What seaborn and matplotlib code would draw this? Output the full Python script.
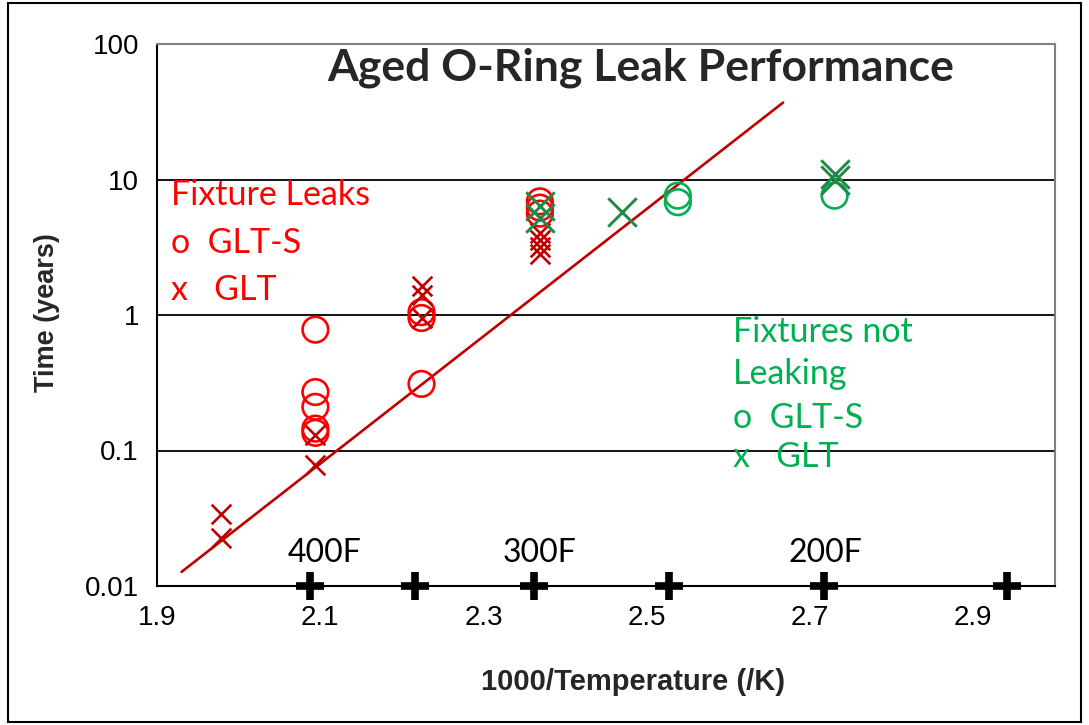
import matplotlib
matplotlib.use("Agg")
import matplotlib.pyplot as plt
import seaborn as sns
from matplotlib.patches import Rectangle

# Fixture leaks (red)
leak_s_x = [2.094, 2.094, 2.094, 2.094, 2.094, 2.224, 2.224, 2.224, 2.369, 2.369, 2.369]
leak_s_y = [0.78, 0.27, 0.21, 0.145, 0.135, 0.31, 1.05, 0.95, 6.9, 6.2, 5.6]
leak_x = [1.978, 1.978, 2.094, 2.094, 2.224, 2.224, 2.224, 2.369, 2.369, 2.369, 2.369]
leak_y = [0.034, 0.0225, 0.13, 0.078, 1.65, 1.4, 0.95, 4.0, 3.6, 3.2, 2.8]

# Fixtures not leaking (green)
ok_s_x = [2.538, 2.538, 2.730]
ok_s_y = [7.6, 6.8, 7.6]
ok_x = [2.369, 2.369, 2.469, 2.730, 2.730]
ok_y = [6.4, 5.2, 5.8, 11.0, 9.9]

# fit line end points
fit_x = [1.930, 2.667]
fit_y = [0.0127, 37.0]

# temperature reference marks on the axis
temp_x = [2.088, 2.216, 2.362, 2.527, 2.717, 2.941]
temp_y = [0.01] * 6
temp_labels = ["400F", "300F", "200F"]
temp_label_x = [2.105, 2.369, 2.719]

RED = "#FF0000"
DARKRED = "#C00000"
GREEN = "#00B050"
DARKGREEN = "#1E8A47"

sns.set_style("white")
plt.rcParams["font.family"] = ["Liberation Sans", "DejaVu Sans"]

fig = plt.figure(figsize=(10.89, 7.25), dpi=100)
ax = fig.add_axes([157 / 1089, 1 - 586 / 725, 898 / 1089, 542 / 725])

sns.lineplot(x=fit_x, y=fit_y, color=DARKRED, linewidth=1.9, ax=ax)

sns.scatterplot(x=leak_s_x, y=leak_s_y, marker="o", s=340, color=RED,
                facecolor="none", edgecolor=RED, linewidth=1.9, ax=ax, zorder=3)
sns.scatterplot(x=leak_x, y=leak_y, marker="x", s=200, color=DARKRED,
                linewidth=1.9, ax=ax, zorder=4)
sns.scatterplot(x=ok_s_x, y=ok_s_y, marker="o", s=340, color=GREEN,
                facecolor="none", edgecolor=GREEN, linewidth=1.9, ax=ax, zorder=3)
sns.scatterplot(x=ok_x, y=ok_y, marker="x", s=420, color=DARKGREEN,
                linewidth=2.1, ax=ax, zorder=4)
sns.scatterplot(x=temp_x, y=temp_y, marker="+", s=380, color="black",
                linewidth=5.5, ax=ax, zorder=5, clip_on=False)

ax.set_yscale("log")
ax.set_xlim(1.9, 3.0)
ax.set_ylim(0.01, 100)
ax.set_xticks([1.9, 2.1, 2.3, 2.5, 2.7, 2.9])
ax.set_xticklabels(["1.9", "2.1", "2.3", "2.5", "2.7", "2.9"])
ax.set_yticks([0.01, 0.1, 1, 10, 100])
ax.set_yticklabels(["0.01", "0.1", "1", "10", "100"])
ax.minorticks_off()
ax.tick_params(axis="both", direction="out", length=6, width=1.2, color="black",
               labelsize=20, labelcolor="black")
ax.tick_params(axis="y", pad=7)
ax.tick_params(axis="x", pad=8)

for yv in [0.1, 1, 10]:
    ax.axhline(yv, color="black", linewidth=1.3, zorder=1)

ax.spines["left"].set_color("black")
ax.spines["bottom"].set_color("black")
ax.spines["left"].set_linewidth(1.5)
ax.spines["bottom"].set_linewidth(1.5)
ax.spines["top"].set_color("#808080")
ax.spines["right"].set_color("#808080")
ax.spines["top"].set_linewidth(1.5)
ax.spines["right"].set_linewidth(1.5)

ax.set_xlabel("1000/Temperature (/K)", fontsize=21, fontweight="bold")
ax.set_ylabel("Time (years)", fontsize=19.5, fontweight="bold")
ax.xaxis.set_label_coords(0.53, -0.152)
ax.yaxis.set_label_coords(-0.108, 0.505)

for lab, lx in zip(temp_labels, temp_label_x):
    ax.text(lx, 0.015, lab, fontsize=23, family=["Lato", "DejaVu Sans"],
            ha="center", va="baseline", color="black")

def ftext(px, py, s, **kw):
    fig.text(px / 1089, 1 - py / 725, s, va="baseline", family=["Lato", "DejaVu Sans"], **kw)

ftext(641, 81, "Aged O-Ring Leak Performance", fontsize=32, fontweight="bold", ha="center")

for line, by in zip(["Fixture Leaks", "o  GLT-S", "x   GLT"], [205, 253, 300]):
    ftext(171, by, line, fontsize=24.5, color=RED)
for line, by in zip(["Fixtures not", "Leaking", "o  GLT-S", "x   GLT"], [342, 384, 428, 467]):
    ftext(733, by, line, fontsize=24.5, color=GREEN)

fig.patches.append(Rectangle((8 / 1089, 3 / 725), 1073 / 1089, 719 / 725,
                             transform=fig.transFigure, fill=False,
                             edgecolor="black", linewidth=1.5))

fig.savefig("out.png", dpi=100)
